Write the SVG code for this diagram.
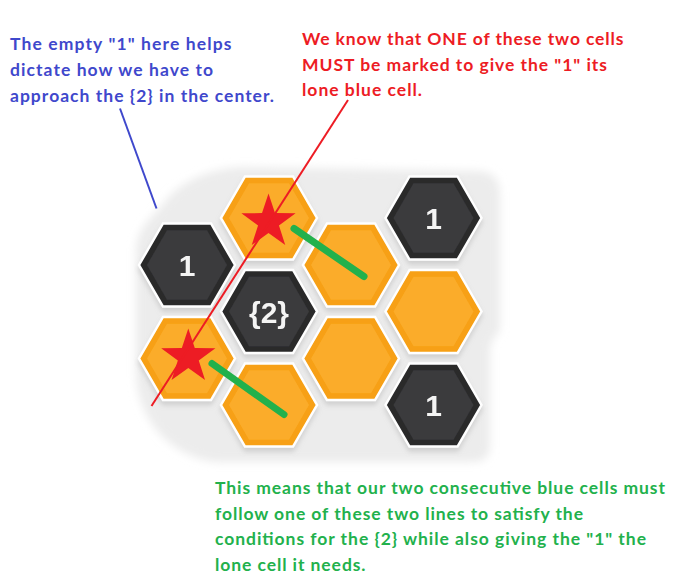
<svg xmlns="http://www.w3.org/2000/svg" xmlns:xlink="http://www.w3.org/1999/xlink" width="700" height="580" viewBox="0 0 700 580">
<style>
.note{font-family:Lato,"Open Sans","Liberation Sans",sans-serif;font-weight:bold;font-size:17.5px}
.blue{fill:#3f48cc}
.red{fill:#ed1c24}
.green{fill:#22b14c}
.num{font-family:"Liberation Sans",Arial,sans-serif;font-weight:bold;font-size:30px;fill:#f4f4f4;text-anchor:middle}
.oo{fill:#f7a013;stroke:#ffffff;stroke-width:2.5}
.oi{fill:#fbac2b}
.do{fill:#2b2b2c;stroke:#ffffff;stroke-width:2.5}
.di{fill:#3a3a3c}
.hex{filter:url(#sh)}
</style>
<defs>
<polygon id="ho" points="48,0 24,41.57 -24,41.57 -48,0 -24,-41.57 24,-41.57"/>
<polygon id="hi" points="40,0 20,34.64 -20,34.64 -40,0 -20,-34.64 20,-34.64"/>
<polygon id="star" points="0,-28.5 6.47,-8.9 27.1,-8.81 10.46,3.4 16.75,23.06 0,11 -16.75,23.06 -10.46,3.4 -27.1,-8.81 -6.47,-8.9"/>
<filter id="blur" x="-10%" y="-10%" width="120%" height="120%"><feGaussianBlur stdDeviation="4"/></filter>
<filter id="sh" x="-20%" y="-20%" width="140%" height="150%"><feDropShadow dx="0" dy="4" stdDeviation="2.5" flood-color="#9a9a9a" flood-opacity="0.35"/></filter>
</defs>
<rect width="700" height="580" fill="#ffffff"/>
<path d="M160,208 C178,182 205,170 240,167 L478,171 C494,172 500,180 500,195 L500,330 C494,338 490,342 490,352 L490,445 C490,458 484,462 470,462 L215,462 C170,456 138,420 136,375 L136,252 C136,232 148,220 160,208 Z" fill="#ececec" filter="url(#blur)"/>
<g id="n-left-1" class="hex"><use href="#ho" class="do" x="187" y="265"/><use href="#hi" class="di" x="187" y="265"/><text class="num" x="187" y="276">1</text></g>
<g id="n-top-star" class="hex"><use href="#ho" class="oo" x="269" y="218"/><use href="#hi" class="oi" x="269" y="218"/></g>
<g id="n-center-2" class="hex"><use href="#ho" class="do" x="269" y="311.5"/><use href="#hi" class="di" x="269" y="311.5"/><text class="num" x="269" y="322.5">{2}</text></g>
<g id="n-bottom-left-star" class="hex"><use href="#ho" class="oo" x="187" y="358.5"/><use href="#hi" class="oi" x="187" y="358.5"/></g>
<g id="n-bottom" class="hex"><use href="#ho" class="oo" x="269" y="405"/><use href="#hi" class="oi" x="269" y="405"/></g>
<g id="n-mid-upper" class="hex"><use href="#ho" class="oo" x="351" y="265"/><use href="#hi" class="oi" x="351" y="265"/></g>
<g id="n-mid-lower" class="hex"><use href="#ho" class="oo" x="351" y="358.5"/><use href="#hi" class="oi" x="351" y="358.5"/></g>
<g id="n-top-right-1" class="hex"><use href="#ho" class="do" x="433.5" y="218"/><use href="#hi" class="di" x="433.5" y="218"/><text class="num" x="433.5" y="229">1</text></g>
<g id="n-right" class="hex"><use href="#ho" class="oo" x="433.5" y="311.5"/><use href="#hi" class="oi" x="433.5" y="311.5"/></g>
<g id="n-bottom-right-1" class="hex"><use href="#ho" class="do" x="433.5" y="405"/><use href="#hi" class="di" x="433.5" y="405"/><text class="num" x="433.5" y="416">1</text></g>
<g id="marks">
<use href="#star" x="268.5" y="222" fill="#ed1c24"/>
<use href="#star" x="188.3" y="357" fill="#ed1c24"/>
</g>
<g id="connectors" fill="none">
<line x1="294" y1="228.5" x2="364" y2="276.5" stroke="#22b14c" stroke-width="7" stroke-linecap="round"/>
<line x1="212" y1="363.5" x2="284" y2="414.5" stroke="#22b14c" stroke-width="7" stroke-linecap="round"/>
<line x1="120" y1="108.5" x2="156.5" y2="208.5" stroke="#3f48cc" stroke-width="2"/>
<line x1="348" y1="100" x2="151.5" y2="406" stroke="#ed1c24" stroke-width="2"/>
</g>
<g id="note-blue" class="note blue">
<text x="10" y="49.5" textLength="221.5">The empty "1" here helps</text>
<text x="10" y="75.5" textLength="203">dictate how we have to</text>
<text x="10" y="101.5" textLength="264">approach the {2} in the center.</text>
</g>
<g id="note-red" class="note red">
<text x="302" y="45" textLength="321.5">We know that ONE of these two cells</text>
<text x="302" y="70.5" textLength="305">MUST be marked to give the "1" its</text>
<text x="302" y="96" textLength="120">lone blue cell.</text>
</g>
<g id="note-green" class="note green">
<text x="215" y="494" textLength="450">This means that our two consecutive blue cells must</text>
<text x="215" y="519.5" textLength="368">follow one of these two lines to satisfy the</text>
<text x="215" y="545" textLength="431">conditions for the {2} while also giving the "1" the</text>
<text x="215" y="570.5" textLength="150.5">lone cell it needs.</text>
</g>
</svg>
